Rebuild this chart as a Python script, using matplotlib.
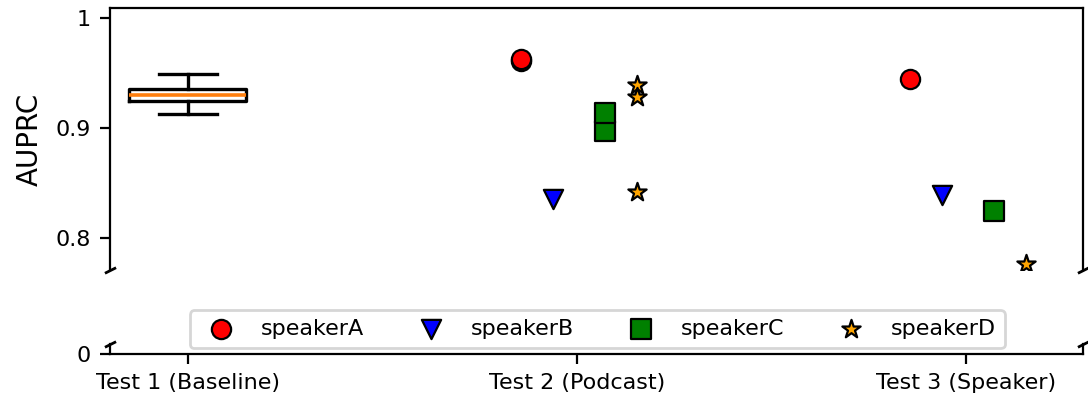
import matplotlib
matplotlib.use('Agg')
import matplotlib.pyplot as plt
from matplotlib.ticker import StrMethodFormatter

# data
tests = ['Test 1 (Baseline)', 'Test 2 (Podcast)', 'Test 3 (Speaker)']
baseline = [0.9127, 0.9248, 0.9300, 0.9352, 0.9488]
speakers = ['speakerA', 'speakerB', 'speakerC', 'speakerD']
markers = ['o', 'v', 's', '*']
colors = ['red', 'blue', 'green', 'orange']
offsets = [-0.145, -0.062, 0.072, 0.154]
podcast = [[0.961, 0.963], [0.8355], [0.897, 0.9135], [0.939, 0.928, 0.842]]
speaker = [[0.945], [0.839], [0.8245], [0.7765]]

fig = plt.figure(figsize=(5.44, 2), dpi=200)
ax = fig.add_axes([0.1011, 0.325, 0.8943, 0.655])
ax2 = fig.add_axes([0.1011, 0.115, 0.8943, 0.025], sharex=ax)

lw = dict(linewidth=1.2)
ax.boxplot([baseline], positions=[1], widths=0.3, boxprops=lw,
           whiskerprops=lw, capprops=lw, medianprops=dict(linewidth=1.3))
for k in range(len(speakers)):
  for t, vals in zip([2, 3], [podcast[k], speaker[k]]):
    ax.scatter([t + offsets[k]] * len(vals), vals, marker=markers[k], s=48,
               c=colors[k], edgecolors='black', linewidths=0.8, zorder=3,
               label=speakers[k] if t == 2 else None)

ax.set_xlim(0.8, 3.3)
ax.set_ylim(0.7709, 1.0091)
ax.set_yticks([0.8, 0.9, 1.0])
ax.yaxis.set_major_formatter(StrMethodFormatter('{x:g}'))
ax.spines['bottom'].set_visible(False)
ax.tick_params(axis='x', bottom=False, labelbottom=False)
ax.tick_params(labelsize=8)
ax.set_ylabel('AUPRC', fontsize=10)

ax2.set_ylim(0, 0.01)
ax2.set_yticks([0])
ax2.spines['top'].set_visible(False)
ax2.set_xticks([1, 2, 3])
ax2.set_xticklabels(tests)
ax2.tick_params(labelsize=8)

# break marks
d = .5
kw = dict(marker=[(-1, -d), (1, d)], markersize=4, linestyle='none',
          color='k', mec='k', mew=1, clip_on=False)
ax.plot([0, 1], [0, 0], transform=ax.transAxes, **kw)
ax2.plot([0, 1], [1, 1], transform=ax2.transAxes, **kw)

fig.legend(loc='lower center', bbox_to_anchor=(0.549, 0.13), ncol=4,
           fontsize=8, borderaxespad=0)

plt.savefig('out.png', dpi=200)
